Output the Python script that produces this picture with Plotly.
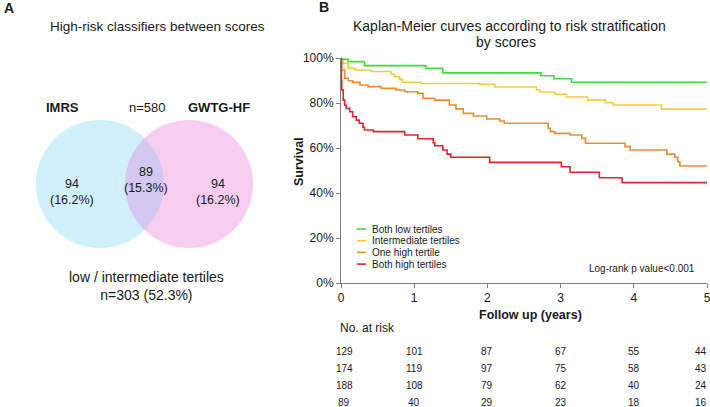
"""Venn diagram of high-risk classifiers plus Kaplan-Meier curves by risk group."""

from __future__ import annotations

import numpy as np
import plotly.graph_objects as go

W, H = 710, 407
FONT = "Liberation Sans, Arial, sans-serif"
TXT = "#1a1a1a"

# --- panel A data -------------------------------------------------------
venn_sets = ["IMRS", "GWTG-HF"]
venn_total = 580
venn_counts = [94, 89, 94]          # IMRS only, both, GWTG-HF only
venn_pcts = [16.2, 15.3, 16.2]
neither_count = 303
neither_pct = 52.3

# --- panel B data -------------------------------------------------------
groups = ["Both low tertiles", "Intermediate tertiles", "One high tertile", "Both high tertiles"]
colors = ["#3fdc3f", "#f4cd3d", "#f08a33", "#e4242b"]

t_low = [0, 0.02, 0.10, 0.32, 1.16, 1.39, 2.73, 2.91, 3.15, 5.0]
s_low = [100, 99.4, 98.4, 96.6, 95.4, 93.4, 92.1, 90.8, 89.2, 89.2]

t_mid = [0, 0.01, 0.03, 0.10, 0.19, 0.41, 0.68, 0.73, 0.80, 0.84, 1.09, 1.90, 2.10,
         2.67, 2.72, 2.92, 3.08, 3.37, 3.61, 3.72, 4.38, 5.0]
s_mid = [100, 98.5, 97.6, 95.4, 94.7, 94.0, 92.9, 91.7, 90.5, 89.2, 88.7, 88.3, 87.1,
         85.8, 84.9, 83.9, 82.7, 81.3, 80.1, 79.1, 77.3, 77.3]

t_one = [0, 0.01, 0.05, 0.10, 0.16, 0.26, 0.37, 0.55, 0.75, 0.87, 1.05, 1.12, 1.28,
         1.48, 1.57, 1.67, 1.81, 1.99, 2.17, 2.23, 2.83, 2.86, 2.92, 3.13, 3.29, 3.34,
         3.88, 3.95, 4.45, 4.56, 4.60, 4.63, 5.0]
s_one = [100, 94.7, 91.0, 89.9, 89.2, 88.0, 87.3, 86.5, 85.8, 85.0, 84.3, 82.1, 81.3,
         79.1, 77.4, 75.4, 74.2, 72.9, 72.0, 71.0, 68.8, 67.3, 66.5, 65.8, 64.3, 62.1,
         60.6, 59.1, 57.3, 55.9, 53.9, 52.0, 52.0]

t_high = [0, 0.005, 0.01, 0.03, 0.05, 0.07, 0.12, 0.16, 0.21, 0.25, 0.30, 0.32, 0.44,
          0.87, 1.05, 1.26, 1.28, 1.39, 1.45, 1.50, 2.03, 3.01, 3.13, 3.53, 3.84, 5.0]
s_high = [100, 90.0, 85.8, 81.3, 79.0, 77.6, 76.1, 73.9, 72.4, 71.0, 69.2, 68.0, 67.3,
          65.8, 64.1, 62.4, 61.0, 59.1, 57.3, 55.9, 53.6, 51.7, 49.2, 46.8, 44.6, 44.6]

km_times = [t_low, t_mid, t_one, t_high]
km_surv = [s_low, s_mid, s_one, s_high]

risk_years = [0, 1, 2, 3, 4, 5]
at_risk = [
    [129, 101, 87, 67, 55, 44],
    [174, 119, 97, 75, 58, 43],
    [188, 108, 79, 62, 40, 24],
    [89, 40, 29, 23, 18, 16],
]


def px(x: float) -> float:
    return x / W


def py(y: float) -> float:
    return 1 - y / H


def lens_polygon(cx1: float, cx2: float, cy: float, r: float, n: int = 60):
    """Outline of the overlap between two equal circles on a horizontal line."""
    half = np.arccos((cx2 - cx1) / 2 / r)
    th = np.linspace(-half, half, n)
    xs = np.concatenate([cx1 + r * np.cos(th), cx2 - r * np.cos(th[::-1])])
    ys = np.concatenate([cy + r * np.sin(th), cy + r * np.sin(th[::-1])])
    return xs, ys


fig = go.Figure()

# Kaplan-Meier curves
for name, color, t, s in zip(groups, colors, km_times, km_surv):
    fig.add_trace(
        go.Scatter(
            x=t, y=s, mode="lines", name=name,
            line=dict(color=color, width=1.6, shape="hv"),
            xaxis="x", yaxis="y", showlegend=False,
        )
    )

# Venn (panel A), drawn in a pixel-like coordinate system
cy, r = 184, 64
cx_left, cx_right = 100, 189
lx, ly = lens_polygon(cx_left, cx_right, cy, r)
fig.add_trace(
    go.Scatter(
        x=lx, y=ly, mode="lines", fill="toself", fillcolor="#d4c8f0",
        line=dict(width=0, color="rgba(0,0,0,0)"), hoverinfo="skip",
        xaxis="x2", yaxis="y2", showlegend=False,
    )
)

shapes = [
    dict(type="circle", xref="x2", yref="y2", layer="below",
         x0=cx_left - r, x1=cx_left + r, y0=cy - r, y1=cy + r,
         fillcolor="#d0f0fb", line=dict(width=0)),
    dict(type="circle", xref="x2", yref="y2", layer="below",
         x0=cx_right - r, x1=cx_right + r, y0=cy - r, y1=cy + r,
         fillcolor="#f8cdf2", line=dict(width=0)),
]

ann = []


def note(x, y, text, size=12, bold=False, xref="paper", yref="paper", **kw):
    if bold:
        text = f"<b>{text}</b>"
    kw.setdefault("xanchor", "center")
    kw.setdefault("yanchor", "middle")
    ann.append(dict(x=x, y=y, xref=xref, yref=yref, text=text, showarrow=False,
                    font=dict(family=FONT, size=size, color=TXT), **kw))


# panel A text
note(9, 8, "A", size=14, bold=True, xref="x2", yref="y2")
note(157, 26, "High-risk classifiers between scores", size=13.5, xref="x2", yref="y2")
note(62, 107, venn_sets[0], size=13, bold=True, xref="x2", yref="y2")
note(147, 107, f"n={venn_total}", size=13, xref="x2", yref="y2")
note(219, 107, venn_sets[1], size=13, bold=True, xref="x2", yref="y2")
for xc, yc, cnt, pct in zip([72, 146, 218], [192, 180, 192], venn_counts, venn_pcts):
    note(xc, yc, f"{cnt}<br>({pct}%)", size=12.5, xref="x2", yref="y2")
note(146, 286, f"low / intermediate tertiles<br>n={neither_count} ({neither_pct}%)",
     size=14, xref="x2", yref="y2")

# panel B text
note(px(324), py(7), "B", size=14, bold=True)
note(px(509), py(26), "Kaplan-Meier curves according to risk stratification", size=14)
note(px(506), py(42), "by scores", size=14)
note(px(299), py(162), "Survival", size=12.5, bold=True, textangle=-90)
note(px(530), py(315), "Follow up (years)", size=12.5, bold=True)
note(px(338), py(328), "No. at risk", size=12, xanchor="left")
note(px(697), py(268), "Log-rank p value<0.001", size=10, xanchor="right")

for i, (name, color) in enumerate(zip(groups, colors)):
    yy = 229 + i * 11.7
    shapes.append(dict(type="line", xref="paper", yref="paper",
                       x0=px(357), x1=px(366), y0=py(yy), y1=py(yy),
                       line=dict(color=color, width=1.6)))
    note(px(370), py(yy), name, size=10, xanchor="left")

for i, row in enumerate(at_risk):
    yy = 351 + i * 17.3
    for j, (yr, n) in enumerate(zip(risk_years, row)):
        shift = 3 if j == 0 else (-6 if j == len(row) - 1 else 0)
        ann.append(dict(x=yr, y=py(yy), xref="x", yref="paper", text=str(n),
                        showarrow=False, xshift=shift, xanchor="center", yanchor="middle",
                        font=dict(family=FONT, size=10, color=TXT)))

axis_style = dict(showgrid=False, zeroline=False, showline=True, linecolor="#808080",
                  linewidth=1, ticks="outside", ticklen=4, tickcolor="#808080",
                  ticklabeloverflow="allow",
                  tickfont=dict(family=FONT, size=12, color=TXT))

fig.update_layout(
    width=W, height=H,
    # annotations near the edges would otherwise grow the margins
    margin=dict(l=0, r=0, t=0, b=0, autoexpand=False),
    paper_bgcolor="white", plot_bgcolor="rgba(0,0,0,0)",
    xaxis=dict(domain=[px(341), px(707)], range=[0, 5], dtick=1, **axis_style),
    yaxis=dict(domain=[py(283), py(58)], range=[0, 100], dtick=20, ticksuffix="%",
               **axis_style),
    xaxis2=dict(domain=[0, 0.4], range=[0, 0.4 * W], visible=False),
    yaxis2=dict(domain=[0, 1], range=[H, 0], visible=False, anchor="x2"),
    shapes=shapes,
    annotations=ann,
    showlegend=False,
)

# the page's default body margin would push the figure off-screen
fig.write_html("out.html", config={"displayModeBar": False},
               post_script="document.body.style.margin='0';")
